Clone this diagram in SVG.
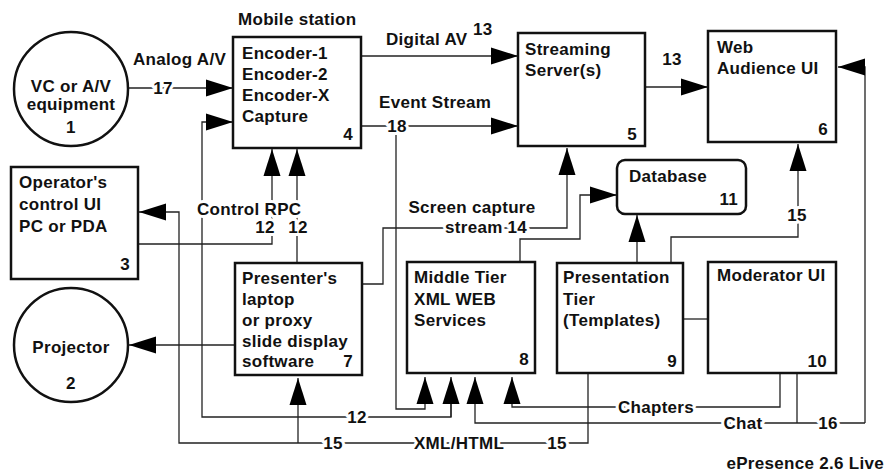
<svg xmlns="http://www.w3.org/2000/svg" width="886" height="476" viewBox="0 0 886 476">
<defs>
<marker id="ah" markerUnits="userSpaceOnUse" markerWidth="28" markerHeight="18" viewBox="0 0 28 18" refX="27" refY="9" orient="auto">
<path d="M0,0.5 L27,9 L0,17.5 z" fill="#000"/>
</marker>
<style>
text{font-family:"Liberation Sans",Arial,sans-serif;font-size:17px;font-weight:bold;letter-spacing:0.3px;fill:#111}
.box{fill:#fff;stroke:#111;stroke-width:2.5}
.wire{fill:none;stroke:#222;stroke-width:1.3}
.arr{marker-end:url(#ah)}
.lbl{stroke:#fff;stroke-width:6;paint-order:stroke;stroke-linejoin:round}
.mid{text-anchor:middle}
.end{text-anchor:end}
</style>
</defs>
<rect width="886" height="476" fill="#fff"/>

<g id="connectors">
<path class="wire arr" d="M129,88 H233"/>
<path class="wire arr" d="M451,402 V417 H202 V122 H233"/>
<path class="wire arr" d="M451,417 V377"/>
<path class="wire arr" d="M361,56 H518"/>
<path class="wire arr" d="M361,126 H518"/>
<path class="wire arr" d="M396,126 V409 H425 V377"/>
<path class="wire arr" d="M645,87 H708"/>
<path class="wire arr" d="M138,244 H272 V149"/>
<path class="wire arr" d="M297,263 V149"/>
<path class="wire arr" d="M588,373 V443 H179 V212 H139"/>
<path class="wire arr" d="M298,443 V378"/>
<path class="wire arr" d="M235,345 H129"/>
<path class="wire arr" d="M362,284 H383 V228 H567 V148"/>
<path class="wire arr" d="M520,262 V239 H580 V195 H617"/>
<path class="wire arr" d="M637,263 V215"/>
<path class="wire arr" d="M671,263 V237 H798 V144"/>
<path class="wire" d="M683,319 H708"/>
<path class="wire arr" d="M780,373 V407 H512 V377"/>
<path class="wire arr" d="M865,423 H475 V377"/>
<path class="wire" d="M797,373 V423"/>
<path class="wire arr" d="M865,423 V67 H838"/>

<text class="lbl mid" x="163" y="94">17</text>
<text x="133" y="65">Analog A/V</text>
<text x="386" y="45">Digital AV</text>
<text x="473" y="35">13</text>
<text x="379" y="108">Event Stream</text>
<text class="lbl mid" x="397" y="132">18</text>
<text class="mid" x="672" y="65">13</text>
<text class="lbl" x="197" y="215">Control RPC</text>
<text class="lbl mid" x="265" y="233">12</text>
<text class="lbl mid" x="298" y="233">12</text>
<text class="mid" x="472" y="213">Screen capture</text>
<text class="lbl" x="445" y="233">stream 14</text>
<text class="lbl mid" x="797" y="221">15</text>
<text class="lbl mid" x="357" y="423">12</text>
<text class="lbl mid" x="333" y="449">15</text>
<text class="lbl mid" x="459" y="449">XML/HTML</text>
<text class="lbl mid" x="557" y="449">15</text>
<text class="lbl mid" x="656" y="413">Chapters</text>
<text class="lbl mid" x="743" y="429">Chat</text>
<text class="lbl mid" x="828" y="429">16</text>
</g>

<g id="n1">
<circle class="box" cx="71" cy="89" r="57"/>
<text class="mid" x="71" y="92">VC or A/V</text>
<text class="mid" x="71" y="110">equipment</text>
<text class="mid" x="71" y="133">1</text>
</g>

<g id="n2">
<circle class="box" cx="71" cy="345" r="57"/>
<text class="mid" x="71" y="353">Projector</text>
<text class="mid" x="71" y="389">2</text>
</g>

<g id="n3">
<rect class="box" x="11" y="167" width="127" height="112"/>
<text x="19" y="188">Operator's</text>
<text x="19" y="210">control UI</text>
<text x="19" y="232">PC or PDA</text>
<text class="end" x="130" y="270">3</text>
</g>

<g id="n4">
<text x="238" y="25">Mobile station</text>
<rect class="box" x="233" y="37" width="128" height="111"/>
<text x="242" y="59">Encoder-1</text>
<text x="242" y="80">Encoder-2</text>
<text x="242" y="101">Encoder-X</text>
<text x="242" y="122">Capture</text>
<text class="end" x="353" y="140">4</text>
</g>

<g id="n5">
<rect class="box" x="518" y="33" width="127" height="113"/>
<text x="525" y="55">Streaming</text>
<text x="525" y="76">Server(s)</text>
<text class="end" x="637" y="140">5</text>
</g>

<g id="n6">
<rect class="box" x="708" y="31" width="128" height="111"/>
<text x="717" y="53">Web</text>
<text x="717" y="74">Audience UI</text>
<text class="end" x="828" y="135">6</text>
</g>

<g id="n7">
<rect class="box" x="235" y="263" width="127" height="112"/>
<text x="242" y="284">Presenter's</text>
<text x="242" y="305">laptop</text>
<text x="242" y="326">or proxy</text>
<text x="242" y="347">slide display</text>
<text x="242" y="367">software</text>
<text class="end" x="353" y="367">7</text>
</g>

<g id="n8">
<rect class="box" x="407" y="262" width="128" height="111"/>
<text x="414" y="283">Middle Tier</text>
<text x="414" y="305">XML WEB</text>
<text x="414" y="326">Services</text>
<text class="end" x="529" y="365">8</text>
</g>

<g id="n9">
<rect class="box" x="557" y="263" width="126" height="110"/>
<text x="563" y="283">Presentation</text>
<text x="563" y="305">Tier</text>
<text x="563" y="326">(Templates)</text>
<text class="end" x="677" y="367">9</text>
</g>

<g id="n10">
<rect class="box" x="708" y="262" width="128" height="111"/>
<text x="717" y="281">Moderator UI</text>
<text class="end" x="827" y="367">10</text>
</g>

<g id="n11">
<rect class="box" x="617" y="160" width="129" height="54" rx="8"/>
<text x="629" y="182">Database</text>
<text class="end" x="738" y="205">11</text>
</g>

<text class="end" x="884" y="469">ePresence 2.6 Live</text>
</svg>
